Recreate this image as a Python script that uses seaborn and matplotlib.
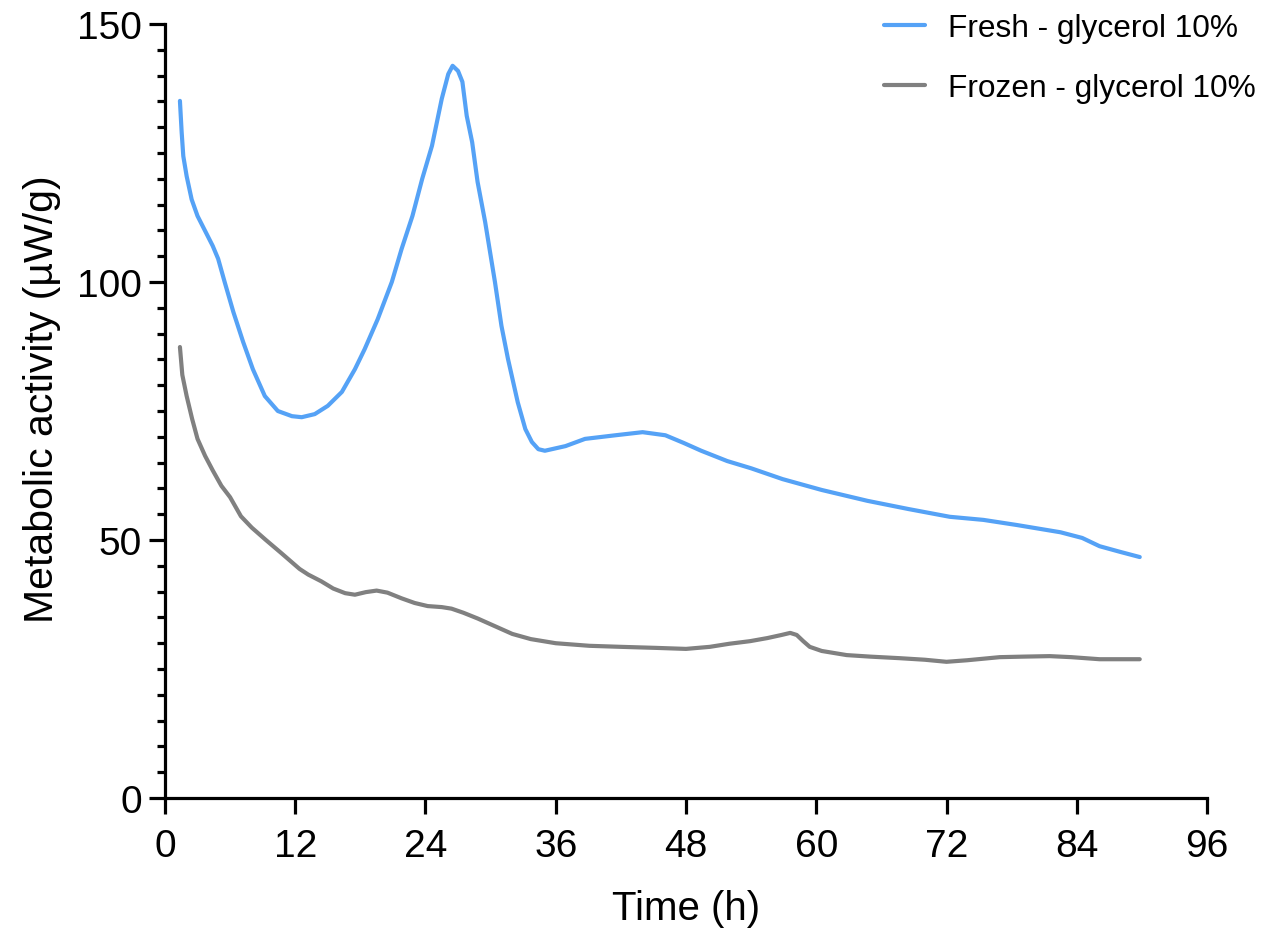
import numpy as np
import pandas as pd
import seaborn as sns
import matplotlib.pyplot as plt
from matplotlib.ticker import MultipleLocator

# Values
fresh_t = [1.38, 1.54, 1.69, 2.0, 2.46, 3.0, 3.7, 4.4, 4.9, 5.5, 6.3, 7.2, 8.1, 9.2,
           10.4, 11.7, 12.6, 13.8, 15.0, 16.3, 17.5, 18.4, 19.6, 20.9, 21.8, 22.8,
           23.7, 24.6, 25.5, 26.1, 26.5, 27.0, 27.4, 27.8, 28.3, 28.8, 29.5, 30.4,
           31.0, 31.6, 32.5, 33.2, 33.8, 34.4, 35.0, 36.9, 38.7, 41.5, 44.0, 46.1,
           47.8, 49.4, 51.8, 54.0, 56.9, 60.5, 64.7, 68.5, 72.3, 75.4, 78.5, 82.5,
           84.5, 86.1, 88.0, 89.8]
fresh_y = [135.1, 129.0, 124.4, 120.5, 116.0, 112.8, 109.9, 107.0, 104.5, 100.0, 94.2,
           88.4, 83.1, 77.9, 75.0, 74.0, 73.8, 74.4, 76.0, 78.7, 83.1, 87.0, 92.8,
           100.0, 106.4, 112.8, 120.0, 126.4, 135.5, 140.3, 141.9, 140.9, 138.8,
           132.2, 127.1, 119.4, 111.6, 100.0, 91.5, 85.1, 76.7, 71.5, 69.0, 67.6,
           67.3, 68.2, 69.6, 70.3, 70.9, 70.3, 68.8, 67.3, 65.3, 63.9, 61.8, 59.7,
           57.6, 56.0, 54.5, 53.9, 52.9, 51.5, 50.4, 48.8, 47.7, 46.7]

frozen_t = [1.38, 1.6, 2.0, 2.5, 3.0, 3.7, 4.4, 5.2, 6.0, 7.0, 8.0, 9.3, 10.7, 12.4,
            13.2, 14.4, 15.5, 16.6, 17.5, 18.5, 19.5, 20.5, 21.8, 23.0, 24.2, 25.5,
            26.4, 27.5, 28.8, 30.4, 32.0, 33.7, 36.0, 39.1, 42.0, 45.2, 48.0, 50.2,
            52.0, 53.9, 55.5, 56.8, 57.6, 58.2, 58.8, 59.4, 60.5, 62.8, 65.0, 67.7,
            70.0, 72.0, 73.9, 76.9, 79.0, 81.5, 83.5, 86.1, 89.8]
frozen_y = [87.4, 82.0, 77.9, 73.5, 69.6, 66.3, 63.5, 60.5, 58.3, 54.6, 52.4, 50.0,
            47.5, 44.4, 43.3, 42.0, 40.6, 39.7, 39.4, 39.9, 40.2, 39.8, 38.7, 37.8,
            37.2, 37.0, 36.7, 35.9, 34.8, 33.3, 31.8, 30.8, 30.0, 29.5, 29.3, 29.1,
            28.9, 29.3, 29.9, 30.4, 31.0, 31.6, 32.0, 31.6, 30.4, 29.3, 28.5, 27.7,
            27.4, 27.1, 26.8, 26.4, 26.7, 27.3, 27.4, 27.5, 27.3, 26.9, 26.9]

labels = ['Fresh - glycerol 10%', 'Frozen - glycerol 10%']
colors = ['#55A2F6', '#808080']

df = pd.concat([
    pd.DataFrame({'Time': fresh_t, 'Activity': fresh_y, 'Sample': labels[0]}),
    pd.DataFrame({'Time': frozen_t, 'Activity': frozen_y, 'Sample': labels[1]}),
])

sns.set_style('ticks')
plt.rcParams['font.family'] = ['Liberation Sans', 'DejaVu Sans']
plt.rcParams['text.color'] = 'black'
plt.rcParams['axes.labelcolor'] = 'black'
plt.rcParams['xtick.color'] = 'black'
plt.rcParams['ytick.color'] = 'black'

fig = plt.figure(figsize=(12.63, 9.29), dpi=100)
ax = fig.add_axes([0.1306, 0.1399, 0.8251, 0.8332])

sns.lineplot(data=df, x='Time', y='Activity', hue='Sample', palette=dict(zip(labels, colors)),
             sort=False, errorbar=None, linewidth=3.0, ax=ax)

ax.set_xlim(0, 96)
ax.set_ylim(0, 150)
ax.xaxis.set_major_locator(MultipleLocator(12))
ax.yaxis.set_major_locator(MultipleLocator(50))
ax.yaxis.set_minor_locator(MultipleLocator(5))

for side in ['top', 'right']:
    ax.spines[side].set_visible(False)
for side in ['left', 'bottom']:
    ax.spines[side].set_linewidth(2.3)
    ax.spines[side].set_color('black')

ax.tick_params(which='major', length=11.5, width=2.3, labelsize=28, pad=5)
ax.tick_params(which='minor', length=6, width=2.3)
ax.tick_params(axis='x', pad=10)

ax.set_xlabel('Time (h)', fontsize=29, labelpad=18)
ax.set_ylabel('Metabolic activity (µW/g)', fontsize=29.5)
ax.yaxis.set_label_coords(-0.1, 0.517)

ax.legend(loc='upper left', bbox_to_anchor=(0.700, 0.985), bbox_transform=fig.transFigure,
          frameon=False, fontsize=22.8, handlelength=1.3, handletextpad=0.72,
          labelspacing=0.95, borderpad=0, borderaxespad=0)

fig.savefig('out.png', dpi=100)
